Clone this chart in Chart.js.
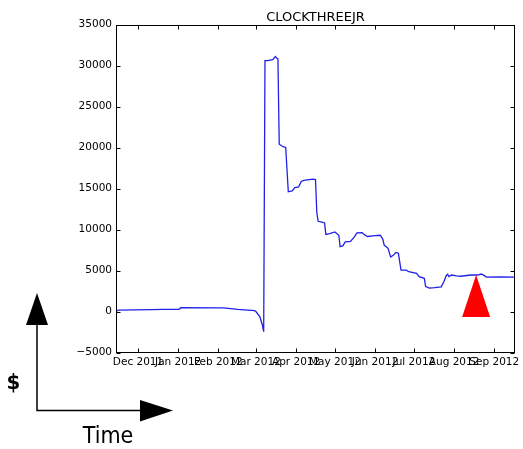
<!DOCTYPE html>
<html>
<head>
<meta charset="utf-8">
<script src="https://cdn.jsdelivr.net/npm/chart.js"></script>
<style>
  html, body { margin: 0; padding: 0; background: #fff; }
  #wrap { width: 523px; height: 449px; }
</style>
</head>
<body>
<div id="wrap"><canvas id="myChart"></canvas></div>
<script>
//data block
const chartTitle = 'CLOCKTHREEJR';
const dates = [
  '2011-11-14', '2011-11-16', '2011-12-11', '2011-12-20', '2012-01-01', '2012-01-02',
  '2012-01-03', '2012-02-01', '2012-02-05', '2012-02-16', '2012-02-29', '2012-03-01',
  '2012-03-04', '2012-03-06', '2012-03-07', '2012-03-08', '2012-03-10', '2012-03-14',
  '2012-03-16', '2012-03-17', '2012-03-18', '2012-03-19', '2012-03-22', '2012-03-24',
  '2012-03-26', '2012-03-29', '2012-03-31', '2012-04-03', '2012-04-05', '2012-04-07',
  '2012-04-14', '2012-04-16', '2012-04-17', '2012-04-18', '2012-04-21', '2012-04-23',
  '2012-04-24', '2012-04-27', '2012-05-01', '2012-05-04', '2012-05-05', '2012-05-07',
  '2012-05-09', '2012-05-13', '2012-05-16', '2012-05-18', '2012-05-22', '2012-05-23',
  '2012-05-26', '2012-06-01', '2012-06-05', '2012-06-07', '2012-06-08', '2012-06-11',
  '2012-06-13', '2012-06-15', '2012-06-17', '2012-06-19', '2012-06-21', '2012-06-25',
  '2012-06-27', '2012-07-03', '2012-07-05', '2012-07-09', '2012-07-10', '2012-07-13',
  '2012-07-17', '2012-07-22', '2012-07-24', '2012-07-26', '2012-07-27', '2012-07-28',
  '2012-07-30', '2012-08-03', '2012-08-06', '2012-08-14', '2012-08-19', '2012-08-22',
  '2012-08-24', '2012-08-26', '2012-09-05', '2012-09-17'
];
const balance = [
  50, 180, 220, 250, 270, 300,
  460, 450, 430, 250, 100, 0,
  -630, -1650, -2460, 30600, 30600, 30720,
  31090, 30900, 30800, 20400, 20100, 20000,
  14600, 14700, 15100, 15200, 15850, 16000,
  16150, 16100, 12100, 11000, 10900, 10800,
  9400, 9500, 9700, 9300, 7900, 8000,
  8500, 8550, 9100, 9600, 9620, 9450,
  9150, 9250, 9300, 8800, 8100, 7700,
  6650, 6850, 7200, 7100, 5050, 5050,
  4850, 4650, 4250, 4050, 3050, 2850,
  2900, 3000, 3600, 4400, 4550, 4250,
  4450, 4350, 4300, 4450, 4450, 4570,
  4400, 4200, 4220, 4180
];
const monthTicks = ['2011-12-01', '2012-01-01', '2012-02-01', '2012-03-01', '2012-04-01',
  '2012-05-01', '2012-06-01', '2012-07-01', '2012-08-01', '2012-09-01'];
const monthLabels = ['Dec 2011', 'Jan 2012', 'Feb 2012', 'Mar 2012', 'Apr 2012',
  'May 2012', 'Jun 2012', 'Jul 2012', 'Aug 2012', 'Sep 2012'];
const yTicks = [-5000, 0, 5000, 10000, 15000, 20000, 25000, 30000, 35000];
const markDate = '2012-08-18';
const markValue = 4450;

// days since 1 Dec 2011
const dayOf = s => (Date.parse(s) - Date.parse('2011-12-01')) / 86400000;
const tickFont = { family: 'DejaVu Sans', size: 10.5 };

//plugin: title over the axes, matplotlib style frame, inward ticks, marker, $/Time arrows
const decorPlugin = {
  id: 'decor',
  afterDatasetsDraw(chart) {
    const { ctx, chartArea: a, scales: { x, y } } = chart;
    ctx.save();
    // red marker
    const px = x.getPixelForValue(dayOf(markDate));
    const py = y.getPixelForValue(markValue);
    ctx.fillStyle = '#ff0000';
    ctx.beginPath();
    ctx.moveTo(px, py);
    ctx.lineTo(px + 14, py + 42);
    ctx.lineTo(px - 14, py + 42);
    ctx.closePath();
    ctx.fill();
    // frame
    const l = Math.round(a.left) + 0.5, r = Math.round(a.right) - 0.5;
    const t = Math.round(a.top) + 0.5, b = Math.round(a.bottom) - 0.5;
    ctx.strokeStyle = '#000';
    ctx.lineWidth = 1;
    ctx.strokeRect(l, t, r - l, b - t);
    ctx.beginPath();
    x.ticks.forEach(tk => {
      const xx = Math.round(x.getPixelForValue(tk.value)) + 0.5;
      ctx.moveTo(xx, b); ctx.lineTo(xx, b - 4);
      ctx.moveTo(xx, t); ctx.lineTo(xx, t + 4);
    });
    y.ticks.forEach(tk => {
      const yy = Math.round(y.getPixelForValue(tk.value)) + 0.5;
      ctx.moveTo(l, yy); ctx.lineTo(l + 4, yy);
      ctx.moveTo(r, yy); ctx.lineTo(r - 4, yy);
    });
    ctx.stroke();
    // title, centred on the axes
    ctx.fillStyle = '#000';
    ctx.font = '13px "DejaVu Sans"';
    ctx.textAlign = 'center';
    ctx.textBaseline = 'alphabetic';
    ctx.fillText(chartTitle, (a.left + a.right) / 2, a.top - 4);
    ctx.restore();
  },
  afterDraw(chart) {
    const ctx = chart.ctx;
    ctx.save();
    ctx.strokeStyle = '#000';
    ctx.fillStyle = '#000';
    ctx.lineWidth = 1.5;
    ctx.beginPath();
    ctx.moveTo(37, 325); ctx.lineTo(37, 410.5); ctx.lineTo(140, 410.5);
    ctx.stroke();
    ctx.beginPath();
    ctx.moveTo(37, 293); ctx.lineTo(48, 325); ctx.lineTo(26, 325); ctx.closePath();
    ctx.fill();
    ctx.beginPath();
    ctx.moveTo(173, 410.5); ctx.lineTo(140, 400); ctx.lineTo(140, 421.5); ctx.closePath();
    ctx.fill();
    ctx.textAlign = 'center';
    ctx.textBaseline = 'middle';
    ctx.font = 'bold 22px "DejaVu Sans Condensed", "DejaVu Sans"';
    ctx.fillText('$', 13.5, 383);
    ctx.font = '23px "DejaVu Sans Condensed", "DejaVu Sans"';
    ctx.fillText('Time', 108, 437);
    ctx.restore();
  }
};

//config block
const config = {
  type: 'line',
  data: {
    datasets: [{
      data: dates.map((d, i) => ({ x: dayOf(d), y: balance[i] })),
      borderColor: '#2020e8',
      borderWidth: 1.3,
      pointRadius: 0,
      tension: 0,
      fill: false
    }]
  },
  options: {
    responsive: true,
    maintainAspectRatio: false,
    animation: false,
    layout: { padding: { left: 0, right: 8, top: 24.5, bottom: 0 } },
    plugins: {
      legend: { display: false },
      tooltip: { enabled: false },
      title: { display: false }
    },
    scales: {
      x: {
        type: 'linear',
        min: dayOf(dates[0]),
        max: dayOf(dates[dates.length - 1]),
        grid: { display: false, drawTicks: false },
        border: { display: false },
        afterBuildTicks: s => { s.ticks = monthTicks.map(m => ({ value: dayOf(m) })); },
        afterFit: s => { s.height = 96.5; },
        ticks: {
          autoSkip: false, maxRotation: 0, minRotation: 0, padding: 3,
          color: '#000', font: tickFont,
          callback: (v, i) => monthLabels[i]
        }
      },
      y: {
        min: -5000,
        max: 35000,
        grid: { display: false, drawTicks: false },
        border: { display: false },
        afterBuildTicks: s => { s.ticks = yTicks.map(v => ({ value: v })); },
        afterFit: s => { s.width = 116; },
        ticks: {
          padding: 4, color: '#000', font: tickFont,
          callback: v => String(v).replace('-', '\u2212')
        }
      }
    }
  },
  plugins: [decorPlugin]
};

//init render block
const myChart = new Chart(document.getElementById('myChart'), config);
</script>
</body>
</html>
